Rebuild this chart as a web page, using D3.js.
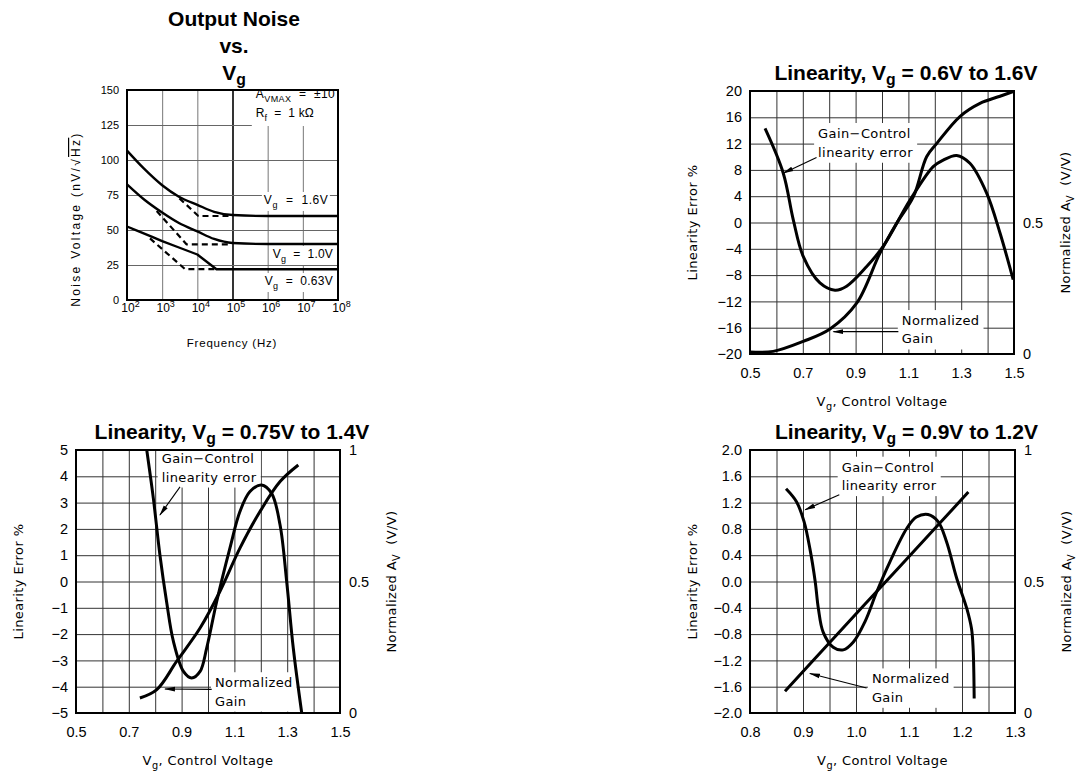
<!DOCTYPE html>
<meta charset="utf-8">
<style>
body { margin: 0; background: #fff; }
text { fill: #000; white-space: pre; }
.title { font-family: "Liberation Sans", Arial, sans-serif; font-weight: bold; font-size: 21px; }
.num { font-family: "Liberation Sans", Arial, sans-serif; font-size: 14.5px; }
.lbl { font-family: "DejaVu Sans", sans-serif; font-size: 13px; letter-spacing: .4px; }
.small { font-family: "Liberation Sans", Arial, sans-serif; font-size: 12px; letter-spacing: .8px; }
.grid line { stroke: #333; stroke-width: 1px; }
.curve { fill: none; stroke: #000; stroke-width: 3px; stroke-linejoin: round; }
</style>
<script src="https://d3js.org/d3.v7.min.js"></script>
<body>
<svg id="chart" width="1077" height="774"></svg>
<script>

// ---------------------------//
//   DATA                     //
// ---------------------------//

// Output noise vs Vg : [frequency Hz, noise nV/rtHz]
var noiseYTicks = [0, 25, 50, 75, 100, 125, 150];
var noiseXTicks = [1e2, 1e3, 1e4, 1e5, 1e6, 1e7, 1e8];
var noise16 = [[1e2,106.7],[3e2,94],[1e3,82],[3e3,73.8],[1e4,68],[3e4,63],[1e5,60.7],[1e6,60],[1e8,60]];
var noise16Dash = [[3.1e3,72.6],[1.07e4,60],[9e4,60]];
var noise10 = [[1e2,82.6],[3e2,72],[1e3,62.5],[3e3,55],[1e4,49],[3e4,43.6],[1e5,40.7],[1e6,40],[1e8,40]];
var noise10Dash = [[7e2,63.6],[4.9e3,39.8],[9e4,39.8]];
var noise063 = [[1e2,52.5],[2e2,49.3],[5e2,45.3],[1e3,42],[3e3,37.5],[1e4,32.5],[3.5e4,22],[1e8,22]];
var noise063Dash = [[4.5e2,44],[4.5e3,22],[3.5e4,22]];

// Linearity, Vg = 0.6V to 1.6V
var lin1Vg   = [0.557,0.626,0.664,0.702,0.765,0.822,0.866,0.942,1.005,1.106,1.194,1.232,1.283,1.333,1.396,1.447,1.497];
var lin1Err  = [14.3,7.5,0.4,-5.2,-9.2,-10.3,-9.7,-6.7,-3.6,3.4,8.5,9.5,10.2,9.0,4.5,-1.6,-8.7];
var lin1GVg  = [0.5,0.588,0.702,0.803,0.904,0.992,1.056,1.119,1.169,1.207,1.295,1.371,1.447,1.497];
var lin1Gain = [0.008,0.01,0.048,0.095,0.193,0.383,0.498,0.598,0.75,0.8,0.903,0.953,0.98,0.998];

// Linearity, Vg = 0.75V to 1.4V
var lin2Vg   = [0.768,0.793,0.818,0.843,0.869,0.907,0.938,0.970,0.995,1.033,1.083,1.121,1.159,1.203,1.241,1.273,1.298,1.323,1.355];
var lin2Err  = [5.0,3.16,1.0,-0.76,-2.28,-3.42,-3.67,-3.42,-2.53,-0.76,1.27,2.66,3.42,3.67,3.35,2.15,0,-2.53,-5.0];
var lin2GVg  = [0.742,0.806,0.881,0.970,1.045,1.121,1.197,1.273,1.342];
var lin2Gain = [0.057,0.089,0.196,0.323,0.462,0.627,0.766,0.88,0.943];

// Linearity, Vg = 0.9V to 1.2V
var lin3Vg   = [0.868,0.888,0.902,0.913,0.923,0.929,0.938,0.957,0.976,0.995,1.017,1.039,1.064,1.096,1.114,1.136,1.155,1.171,1.190,1.209,1.218,1.221,1.223];
var lin3Err  = [1.41,1.21,0.91,0.50,0.0,-0.41,-0.77,-1.0,-1.04,-0.92,-0.61,-0.16,0.30,0.81,0.98,1.02,0.91,0.60,0.05,-0.41,-0.72,-1.02,-1.78];
var lin3GVg  = [0.866,0.95,1.05,1.15,1.212];
var lin3Gain = [0.083,0.267,0.486,0.704,0.84];

var xTicksWide = [0.5,0.7,0.9,1.1,1.3,1.5];
var xTicksNarrow = [0.8,0.9,1.0,1.1,1.2,1.3];

var svg = d3.select("#chart");

svg.append("defs").append("marker")
    .attr("id", "arrow")
    .attr("markerUnits", "userSpaceOnUse")
    .attr("markerWidth", 11).attr("markerHeight", 6)
    .attr("refX", 10).attr("refY", 3)
    .attr("orient", "auto")
  .append("path")
    .attr("d", "M0,0.6 L11,3 L0,5.4 z")
    .attr("fill", "#000");

// text with _{sub} / ^{sup} parts
function rich(sel, str, sub, sup) {
  var parts = str.split(/(_\{[^}]*\}|\^\{[^}]*\})/).filter(function(s) { return s.length; });
  var prev = 0;
  parts.forEach(function(p) {
    var off = 0, t = p, small = false;
    if (p[0] === "_") { t = p.slice(2, -1); off = sub; small = true; }
    else if (p[0] === "^") { t = p.slice(2, -1); off = -sup; small = true; }
    var ts = sel.append("tspan").text(t).attr("dy", off - prev);
    if (small) ts.style("font-size", "75%");
    prev = off;
  });
  return sel;
}

// white boxed note, lines = [[x, y, str, width?], ...]
function note(g, lines, cls, pad) {
  var ng = g.append("g");
  lines.forEach(function(l) {
    var t = ng.append("text").attr("class", cls).attr("x", l[0]).attr("y", l[1]);
    rich(t, l[2], 4, 5);
    if (l[3]) t.style("letter-spacing", "0px").attr("textLength", l[3]).attr("lengthAdjust", "spacing");
  });
  var b = ng.node().getBBox();
  ng.insert("rect", ":first-child")
    .attr("x", b.x - pad).attr("y", b.y - pad + 1)
    .attr("width", b.width + 2 * pad).attr("height", b.height + 2 * pad - 2)
    .attr("fill", "#fff");
}

function arrow(g, x1, y1, x2, y2) {
  g.append("line")
    .attr("x1", x1).attr("y1", y1).attr("x2", x2).attr("y2", y2)
    .attr("stroke", "#000").attr("stroke-width", 1.1)
    .attr("marker-end", "url(#arrow)");
}

function rotLabel(x, y, str, cls) {
  var t = svg.append("text").attr("class", cls)
    .attr("text-anchor", "middle")
    .attr("transform", "translate(" + x + "," + y + ") rotate(-90)");
  rich(t, str, 4, 5);
  return t;
}

// ---------------------------//
//   OUTPUT NOISE vs Vg       //
// ---------------------------//
(function() {
  var L = 127, R = 338, T = 90, B = 300;
  var x = d3.scaleLog().domain([1e2, 1e8]).range([L, R]);
  var y = d3.scaleLinear().domain([0, 150]).range([B, T]);
  var g = svg.append("g");

  g.append("g").attr("class", "grid")
    .attr("transform", "translate(0," + B + ")")
    .call(d3.axisBottom(x).tickValues([1e3, 1e4, 1e5, 1e6, 1e7]).tickSize(-(B - T)).tickFormat(""))
    .call(function(a) { a.select(".domain").remove(); })
    .selectAll("line")
      .style("stroke", function(d) { return d === 1e5 ? "#000" : "#777"; })
      .style("stroke-width", function(d) { return d === 1e5 ? "1.6px" : "1px"; });
  g.append("g").attr("class", "grid")
    .attr("transform", "translate(" + L + ",0)")
    .call(d3.axisLeft(y).tickValues([25, 50, 75, 100, 125]).tickSize(-(R - L)).tickFormat(""))
    .call(function(a) { a.select(".domain").remove(); })
    .selectAll("line").style("stroke", "#666");

  // y labels
  g.append("g")
    .attr("transform", "translate(" + L + ",0)")
    .call(d3.axisLeft(y).tickValues(noiseYTicks).tickSize(0).tickPadding(8))
    .call(function(a) { a.select(".domain").remove(); })
    .attr("font-family", null).attr("font-size", null)
    .selectAll("text").attr("class", "small").style("letter-spacing", "0px").style("font-size", "11px");

  // x labels 10^n
  g.append("g")
    .attr("transform", "translate(0," + B + ")")
    .call(d3.axisBottom(x).tickValues(noiseXTicks).tickSize(0).tickPadding(12).tickFormat(""))
    .call(function(a) { a.select(".domain").remove(); })
    .attr("font-family", null).attr("font-size", null)
    .selectAll(".tick text").each(function(d) {
      var t = d3.select(this).attr("class", "small").style("letter-spacing", "0px").attr("dx", "3px");
      rich(t, "10^{" + Math.round(Math.log10(d)) + "}", 4, 5);
    });

  // notes
  note(g, [[x(4.6e5), y(144.3), "A_{VMAX}  =  ±10", 79], [x(4.6e5), y(130.7), "R_{f}  =  1 kΩ", 58]], "small", 4);
  note(g, [[x(7.8e5), y(68.6), "V_{g}  =  1.6V", 64]], "small", 2);
  note(g, [[x(1.4e6), y(30), "V_{g}  =  1.0V", 60]], "small", 2);
  note(g, [[x(8.3e5), y(10.7), "V_{g}  =  0.63V", 68]], "small", 2);

  g.append("rect").attr("x", L).attr("y", T).attr("width", R - L).attr("height", B - T)
    .attr("fill", "none").attr("stroke", "#000").attr("stroke-width", 2);

  var line = d3.line().x(function(d) { return x(d[0]); }).y(function(d) { return y(d[1]); });
  var smooth = d3.line().curve(d3.curveMonotoneX).x(function(d) { return x(d[0]); }).y(function(d) { return y(d[1]); });

  [noise16, noise10].forEach(function(s) {
    g.append("path").attr("class", "curve").attr("d", smooth(s)).style("stroke-width", "2.4px");
  });
  g.append("path").attr("class", "curve").attr("d", line(noise063)).style("stroke-width", "2.4px");
  [noise16Dash, noise10Dash, noise063Dash].forEach(function(s) {
    g.append("path").attr("class", "curve").attr("d", line(s))
      .style("stroke-width", "2.2px").style("stroke-dasharray", "6,4");
  });

  // titles
  var tx = 234;
  svg.append("text").attr("class", "title").attr("text-anchor", "middle").attr("x", tx).attr("y", 26).text("Output Noise");
  svg.append("text").attr("class", "title").attr("text-anchor", "middle").attr("x", tx).attr("y", 53).text("vs.");
  rich(svg.append("text").attr("class", "title").attr("text-anchor", "middle").attr("x", tx).attr("y", 80), "V_{g}", 5, 5);

  var yl = rotLabel(80, 219, "", "small").style("letter-spacing", "2.3px").style("font-size", "12px");
  yl.append("tspan").text("Noise Voltage (nV/√");
  yl.append("tspan").text("Hz").style("text-decoration", "overline");
  yl.append("tspan").text(")");

  svg.append("text").attr("class", "small").attr("text-anchor", "middle")
    .attr("x", 232).attr("y", 347).style("font-size", "11.5px").style("letter-spacing", "0.8px")
    .text("Frequency (Hz)");
})();

// ---------------------------//
//   LINEARITY PANELS         //
// ---------------------------//
function linPanel(p) {
  var x = d3.scaleLinear().domain(p.xDom).range([p.L, p.R]);
  var y = d3.scaleLinear().domain(p.yDom).range([p.B, p.T]);
  var yR = d3.scaleLinear().domain([0, 1]).range([p.B, p.T]);
  var g = svg.append("g");

  var xg = d3.range(11).map(function(i) { return p.xDom[0] + i * (p.xDom[1] - p.xDom[0]) / 10; });
  var yg = d3.range(11).map(function(i) { return p.yDom[0] + i * (p.yDom[1] - p.yDom[0]) / 10; });

  g.append("g").attr("class", "grid")
    .attr("transform", "translate(0," + p.B + ")")
    .call(d3.axisBottom(x).tickValues(xg).tickSize(-(p.B - p.T)).tickFormat(""))
    .call(function(a) { a.select(".domain").remove(); });
  g.append("g").attr("class", "grid")
    .attr("transform", "translate(" + p.L + ",0)")
    .call(d3.axisLeft(y).tickValues(yg).tickSize(-(p.R - p.L)).tickFormat(""))
    .call(function(a) { a.select(".domain").remove(); });

  // tick labels
  g.append("g")
    .attr("transform", "translate(0," + p.B + ")")
    .call(d3.axisBottom(x).tickValues(p.xTicks).tickSize(0).tickPadding(13.5).tickFormat(d3.format(".1f")))
    .call(function(a) { a.select(".domain").remove(); })
    .attr("font-family", null).attr("font-size", null)
    .selectAll("text").attr("class", "num");
  g.append("g")
    .attr("transform", "translate(" + p.L + ",0)")
    .call(d3.axisLeft(y).tickValues(yg).tickSize(0).tickPadding(8).tickFormat(p.yFmt))
    .call(function(a) { a.select(".domain").remove(); })
    .attr("font-family", null).attr("font-size", null)
    .selectAll("text").attr("class", "num");
  g.append("g")
    .attr("transform", "translate(" + p.R + ",0)")
    .call(d3.axisRight(yR).tickValues(p.rTicks).tickSize(0).tickPadding(9).tickFormat(function(d) { return d === 0.5 ? "0.5" : d; }))
    .call(function(a) { a.select(".domain").remove(); })
    .attr("font-family", null).attr("font-size", null)
    .selectAll("text").attr("class", "num");

  // notes
  note(g, [[x(p.n1[0]), y(p.n1[1]), "Gain−Control"], [x(p.n1[0]), y(p.n1[2]), "linearity error"]], "lbl", 4);
  note(g, [[x(p.n2[0]), y(p.n2[1]), "Normalized"], [x(p.n2[0]), y(p.n2[2]), "Gain"]], "lbl", 4);

  g.append("rect").attr("x", p.L).attr("y", p.T).attr("width", p.R - p.L).attr("height", p.B - p.T)
    .attr("fill", "none").attr("stroke", "#000").attr("stroke-width", 2);

  var errLine = d3.line().curve(d3.curveCatmullRom.alpha(0.5))
    .x(function(d, i) { return x(p.vg[i]); }).y(function(d) { return y(d); });
  var gainLine = d3.line().curve(d3.curveCatmullRom.alpha(0.5))
    .x(function(d, i) { return x(p.gvg[i]); }).y(function(d) { return yR(d); });
  g.append("path").attr("class", "curve").attr("d", errLine(p.err));
  g.append("path").attr("class", "curve").attr("d", gainLine(p.gain));

  arrow(g, x(p.a1[0]), y(p.a1[1]), x(p.a1[2]), y(p.a1[3]));
  arrow(g, x(p.a2[0]), y(p.a2[1]), x(p.a2[2]), y(p.a2[3]));

  // titles
  var cx = (p.L + p.R) / 2;
  rich(svg.append("text").attr("class", "title").attr("text-anchor", "middle")
    .attr("x", cx + 24).attr("y", p.T - 11), p.title, 5, 5);
  rich(svg.append("text").attr("class", "lbl").attr("text-anchor", "middle")
    .attr("x", cx).attr("y", p.B + 52), "V_{g}, Control Voltage", 4, 5);
  rotLabel(p.L - 53, (p.T + p.B) / 2, "Linearity Error %", "lbl");
  rotLabel(p.R + 56, (p.T + p.B) / 2, "Normalized A_{V}  (V/V)", "lbl");
}

linPanel({
  L: 750, R: 1014, T: 91, B: 354,
  xDom: [0.5, 1.5], yDom: [-20, 20], xTicks: xTicksWide, rTicks: [0, 0.5],
  yFmt: function(d) { return d < 0 ? "−" + (-d) : d; },
  vg: lin1Vg, err: lin1Err, gvg: lin1GVg, gain: lin1Gain,
  title: "Linearity, V_{g} = 0.6V to 1.6V",
  n1: [0.758, 12.85, 10.0], n2: [1.075, -15.6, -18.4],
  a1: [0.752, 9.9, 0.626, 7.5], a2: [1.062, -16.6, 0.816, -16.6]
});

linPanel({
  L: 76, R: 340, T: 450, B: 713,
  xDom: [0.5, 1.5], yDom: [-5, 5], xTicks: xTicksWide, rTicks: [0, 0.5, 1],
  yFmt: function(d) { return d < 0 ? "−" + (-d) : d; },
  vg: lin2Vg, err: lin2Err, gvg: lin2GVg, gain: lin2Gain,
  title: "Linearity, V_{g} = 0.75V to 1.4V",
  n1: [0.8246, 4.49, 3.80], n2: [1.0265, -4.02, -4.72],
  a1: [0.894, 3.6, 0.818, 2.53], a2: [1.014, -4.1, 0.837, -4.09]
});

linPanel({
  L: 750, R: 1015, T: 450, B: 713,
  xDom: [0.8, 1.3], yDom: [-2, 2], xTicks: xTicksNarrow, rTicks: [0, 0.5, 1],
  yFmt: function(d) { var s = d3.format(".1f")(Math.abs(d)); return d < -1e-9 ? "−" + s : s; },
  vg: lin3Vg, err: lin3Err, gvg: lin3GVg, gain: lin3Gain,
  title: "Linearity, V_{g} = 0.9V to 1.2V",
  n1: [0.973, 1.67, 1.39], n2: [1.030, -1.55, -1.83],
  a1: [0.9685, 1.32, 0.904, 1.09], a2: [1.020, -1.62, 0.913, -1.40]
});

</script>
</body>
